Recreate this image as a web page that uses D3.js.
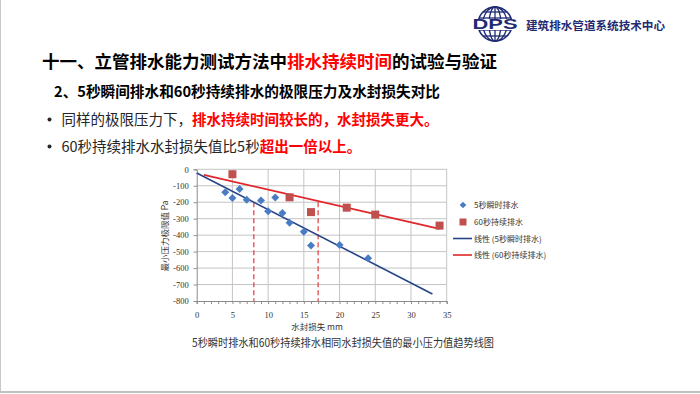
<!DOCTYPE html>
<html><head><meta charset="utf-8">
<script src="https://cdn.jsdelivr.net/npm/d3@7"></script>
<style>
html,body{margin:0;padding:0;background:#fff;}
svg{display:block;}
text{font-family:"Noto Sans CJK SC","Noto Sans",sans-serif;}
</style></head>
<body>
<svg id="c" width="700" height="394"></svg>
<script>
// ---- data ----
const instantX = [4,5,6,7,9,10,11,12,13,15,16,20,24];
const instantY = [-140,-175,-120,-185,-190,-255,-172,-265,-325,-380,-463,-460,-540];
const continuousX = [5,13,16,21,25,34];
const continuousY = [-30,-170,-260,-233,-275,-342];
const instantTrendX = [0,33];
const instantTrendY = [-22,-757];
const continuousTrendX = [1,34];
const continuousTrendY = [-34,-362];
const markerX = [8,17];
const markerTop = [-200,-200];
const xTicks = [0,5,10,15,20,25,30,35];
const yTicks = [0,-100,-200,-300,-400,-500,-600,-700,-800];
const seriesNames = ["5秒瞬时排水","60秒持续排水","线性 (5秒瞬时排水)","线性 (60秒持续排水)"];

const svg = d3.select("#c");
const navy = "#1f2b73";

// slide border
svg.append("line").attr("x1",0.5).attr("x2",0.5).attr("y1",0).attr("y2",393).attr("stroke","#c8c8c8").attr("stroke-width",1);
svg.append("line").attr("x1",0).attr("x2",700).attr("y1",392).attr("y2",392).attr("stroke","#c0c0c0").attr("stroke-width",2);

// logo
const lg = svg.append("g").attr("transform","translate(495,24)");
lg.append("circle").attr("r",17).attr("fill","none").attr("stroke",navy).attr("stroke-width",1.6);
[6,12].forEach(rx=>lg.append("ellipse").attr("rx",rx).attr("ry",17).attr("fill","none").attr("stroke",navy).attr("stroke-width",1.3));
lg.append("line").attr("x1",0).attr("x2",0).attr("y1",-17).attr("y2",17).attr("stroke",navy).attr("stroke-width",1.3);
[-12,-6,6,12].forEach(yy=>{const hw=Math.sqrt(17*17-yy*yy);lg.append("line").attr("x1",-hw).attr("x2",hw).attr("y1",yy).attr("y2",yy).attr("stroke",navy).attr("stroke-width",1.3);});
lg.append("rect").attr("x",-23).attr("y",-5).attr("width",46).attr("height",11).attr("fill","#fff");
lg.append("text").attr("x",0).attr("y",5).attr("text-anchor","middle").attr("textLength",45).attr("lengthAdjust","spacingAndGlyphs")
  .style("font-family","'Liberation Sans',Arial,sans-serif").style("font-weight","bold").style("font-size","14px").attr("fill",navy).text("DPS");
svg.append("text").attr("x",526).attr("y",29.5).attr("textLength",139).attr("lengthAdjust","spacingAndGlyphs")
  .style("font-weight","bold").style("font-size","11.6px").attr("fill",navy).text("建筑排水管道系统技术中心");

// title
const t1 = svg.append("text").attr("x",42).attr("y",68).style("font-weight","bold").style("font-size","17.5px").attr("fill","#000");
t1.append("tspan").text("十一、立管排水能力测试方法中");
t1.append("tspan").attr("fill","#ff0000").text("排水持续时间");
t1.append("tspan").text("的试验与验证");

svg.append("text").attr("x",54).attr("y",96.5).attr("textLength",386).attr("lengthAdjust","spacingAndGlyphs")
  .style("font-weight","bold").style("font-size","14.7px").attr("fill","#000")
  .text("2、5秒瞬间排水和60秒持续排水的极限压力及水封损失对比");

// bullets
[[124.5,"同样的极限压力下，","排水持续时间较长的，水封损失更大。"],[151.5,"60秒持续排水水封损失值比5秒","超出一倍以上。"]].forEach(b=>{
  svg.append("circle").attr("cx",49.5).attr("cy",b[0]-5).attr("r",2).attr("fill","#262626");
  const t = svg.append("text").attr("x",61.5).attr("y",b[0]).style("font-size","14.5px").attr("fill","#262626");
  t.append("tspan").text(b[1]);
  t.append("tspan").attr("fill","#ff0000").style("font-weight","bold").text(b[2]);
});

// chart
const x = d3.scaleLinear().domain([0,35]).range([196.7,446.7]);
const y = d3.scaleLinear().domain([-800,0]).range([301,169.3]);
const tickFont = "'Liberation Serif','Times New Roman',serif";

const grid = svg.append("g");
xTicks.filter(d=>d>0).forEach(d=>grid.append("line").attr("x1",x(d)).attr("x2",x(d)).attr("y1",y(0)).attr("y2",y(-800)).attr("stroke","#c4c4c4").attr("stroke-width",1));
yTicks.filter(d=>d>-800).forEach(d=>grid.append("line").attr("x1",x(0)).attr("x2",x(35)).attr("y1",y(d)).attr("y2",y(d)).attr("stroke","#c4c4c4").attr("stroke-width",1));

// axes
const xAxis = svg.append("g").attr("transform",`translate(0,${y(-800)})`)
  .call(d3.axisBottom(x).tickValues(d3.range(0,36,1)).tickSize(3).tickFormat(""));
xAxis.select(".domain").attr("stroke","#8c8c8c");
xAxis.selectAll(".tick line").attr("stroke","#8c8c8c");
const xLab = svg.append("g").attr("transform",`translate(0,${y(-800)})`)
  .call(d3.axisBottom(x).tickValues(xTicks).tickSize(0).tickPadding(11).tickFormat(d=>String(d)));
xLab.select(".domain").remove();
xLab.selectAll("text").style("font-family",tickFont).style("font-size","8.5px").attr("fill","#333");

const yAxis = svg.append("g").attr("transform",`translate(${x(0)},0)`)
  .call(d3.axisLeft(y).tickValues(yTicks).tickSize(3).tickPadding(5).tickFormat(d=>String(d)));
yAxis.select(".domain").attr("stroke","#8c8c8c");
yAxis.selectAll(".tick line").attr("stroke","#8c8c8c");
yAxis.selectAll("text").style("font-family",tickFont).style("font-size","8.5px").attr("fill","#333");

// dashed markers
markerX.forEach((d,i)=>svg.append("line").attr("x1",x(d)).attr("x2",x(d)).attr("y1",y(markerTop[i])).attr("y2",y(-800))
  .attr("stroke","#e03a3a").attr("stroke-width",1.2).attr("stroke-dasharray","5,3"));

// trend lines
const lineGen = d3.line().x(d=>x(d[0])).y(d=>y(d[1]));
const blueLine = "#27438a", redLine = "#e0262a";
svg.append("path").attr("d",lineGen(d3.zip(instantTrendX,instantTrendY))).attr("stroke",blueLine).attr("stroke-width",1.6).attr("fill","none");
svg.append("path").attr("d",lineGen(d3.zip(continuousTrendX,continuousTrendY))).attr("stroke",redLine).attr("stroke-width",1.6).attr("fill","none");

// markers
const blue = "#4a7cc4", red = "#c0504d";
const diamondPath = "M0,-4L4,0L0,4L-4,0Z";
svg.append("g").selectAll("path").data(d3.zip(instantX,instantY)).join("path")
  .attr("d",diamondPath).attr("transform",d=>`translate(${x(d[0])},${y(d[1])})`).attr("fill",blue);
svg.append("g").selectAll("rect").data(d3.zip(continuousX,continuousY)).join("rect")
  .attr("x",d=>x(d[0])-4).attr("y",d=>y(d[1])-4).attr("width",8).attr("height",8).attr("fill",red);

// axis titles
svg.append("text").attr("x",317).attr("y",329.5).attr("text-anchor","middle").style("font-size","8.5px").attr("fill","#333").text("水封损失 mm");
svg.append("text").attr("transform","translate(168,236) rotate(-90)").attr("text-anchor","middle").style("font-size","8.5px").attr("fill","#333").text("最小压力极限值 Pa");

// legend
const lgd = svg.append("g");
const ly = [205,222,238.5,255];
lgd.append("path").attr("d","M0,-3.3L3.3,0L0,3.3L-3.3,0Z").attr("transform",`translate(463,${ly[0]})`).attr("fill",blue);
lgd.append("rect").attr("x",459.5).attr("y",ly[1]-3.5).attr("width",7).attr("height",7).attr("fill",red);
lgd.append("line").attr("x1",453).attr("x2",472).attr("y1",ly[2]).attr("y2",ly[2]).attr("stroke",blueLine).attr("stroke-width",1.6);
lgd.append("line").attr("x1",453).attr("x2",472).attr("y1",ly[3]).attr("y2",ly[3]).attr("stroke",redLine).attr("stroke-width",1.6);
seriesNames.forEach((n,i)=>lgd.append("text").attr("x",474).attr("y",ly[i]+3).style("font-size","8px").attr("fill","#333").text(n));

// caption
svg.append("text").attr("x",192).attr("y",347).attr("textLength",302).attr("lengthAdjust","spacingAndGlyphs")
  .style("font-size","11.5px").attr("fill","#333").text("5秒瞬时排水和60秒持续排水相同水封损失值的最小压力值趋势线图");
</script>
</body></html>
